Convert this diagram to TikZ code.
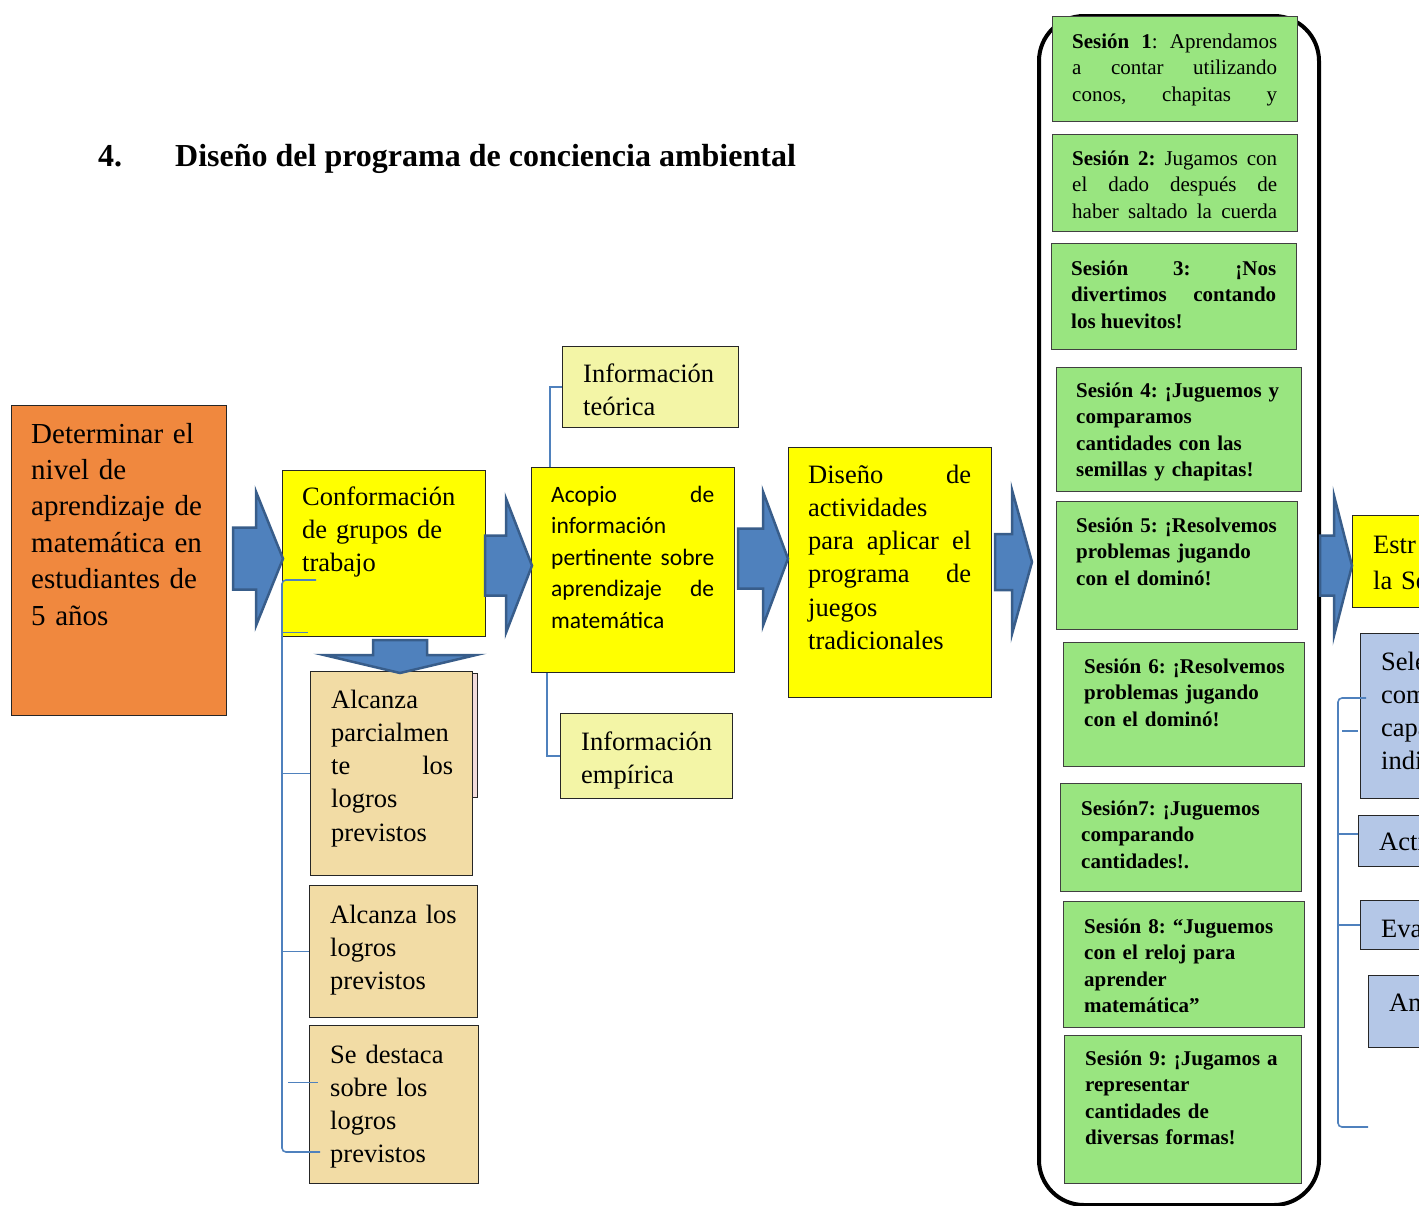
\documentclass[tikz,border=0pt]{standalone}
\usepackage{fontspec}
\setmainfont{Liberation Serif}
\newfontfamily\calibri{Carlito}
\usetikzlibrary{calc}

\definecolor{naranja}{RGB}{240,136,62}
\definecolor{amarillo}{RGB}{255,255,0}
\definecolor{amarilloclaro}{RGB}{243,245,166}
\definecolor{crema}{RGB}{242,220,165}
\definecolor{rosado}{RGB}{242,220,219}
\definecolor{verde}{RGB}{153,229,128}
\definecolor{celeste}{RGB}{180,199,231}
\definecolor{azul}{RGB}{79,129,189}
\definecolor{azulosc}{RGB}{56,93,138}

% flecha de bloque: punta, largo, cabeza, medio cuerpo, media cabeza
\newcommand{\flecha}[5]{%
  \draw[flechaazul, shift={#1}] (-#2,-#4) -- (-#3,-#4) -- (-#3,-#5) -- (0,0)
    -- (-#3,#5) -- (-#3,#4) -- (-#2,#4) -- cycle;}

\begin{document}
\frenchspacing
\begin{tikzpicture}[x=1pt, y=-1pt,
  caja/.style={draw=black!85, line width=1.3pt, inner sep=0pt, anchor=north west},
  naranjo/.style={caja, fill=naranja},
  amar/.style={caja, fill=amarillo},
  info/.style={caja, fill=amarilloclaro},
  logro/.style={caja, fill=crema},
  sesion/.style={caja, draw=black!75, fill=verde},
  azulcaja/.style={caja, fill=celeste},
  flechaazul/.style={fill=azul, draw=azulosc, line width=2.5pt, line join=miter},
  corchete/.style={draw=azul, line width=1.6pt},
  txt/.style={inner sep=0pt, anchor=base west, text width=230, align=left, font=\fontsize{26.5}{33.3}\selectfont\frenchspacing},
  txtgr/.style={txt, font=\fontsize{29}{36.4}\selectfont\frenchspacing},
  txtses/.style={txt, font=\fontsize{21}{26.5}\selectfont\frenchspacing},
  txtsesb/.style={txt, font=\bfseries\fontsize{21}{26.5}\selectfont\frenchspacing},
  txtcal/.style={txt, font=\calibri\fontsize{23.5}{31.5}\selectfont\frenchspacing},
  just/.style={text width=#1, align=justify},
  titulo/.style={inner sep=0pt, anchor=base west, font=\bfseries\fontsize{32}{38}\selectfont},
]
\useasboundingbox (0,0) rectangle (1419,1205);
\clip (0,0) rectangle (1419,1205);

% titulo
\node[titulo] (num) at (98,166) {4.};
\node[titulo] (tit) at (175,166) {Diseño del programa de conciencia ambiental};

% cajas de la izquierda
\node[naranjo, minimum width=215, minimum height=310] (det) at (11,405) {};
\node[amar, minimum width=203, minimum height=166] (conf) at (282,470) {};
\node[amar, minimum width=203, minimum height=205] (acop) at (531,467) {};
\node[info, minimum width=176, minimum height=81] (teo) at (562,346) {};
\node[info, minimum width=172, minimum height=85] (emp) at (560,713) {};
\node[amar, minimum width=203, minimum height=250] (dis) at (788,447) {};
\node[caja, fill=rosado, minimum width=147, minimum height=124] (alc0) at (330,673) {};
\node[logro, minimum width=162, minimum height=204] (alc1) at (310,671) {};
\node[logro, minimum width=168, minimum height=132] (alc2) at (309,885) {};
\node[logro, minimum width=169, minimum height=158] (alc3) at (309,1025) {};

\node[txtgr] (detT) at (31,443) {Determinar el\\nivel de\\aprendizaje de\\matemática en\\estudiantes de\\5 años};
\node[txt] (confT) at (302,505) {Conformación\\de grupos de\\trabajo};
\node[txtcal, just=163] (acopT) at (551,502) {Acopio de\linebreak información\linebreak pertinente sobre\linebreak aprendizaje de\linebreak matemática};
\node[txt] (teoT) at (583,382) {Información\\teórica};
\node[txt] (empT) at (581,750) {Información\\empírica};
\node[txt, just=163] (disT) at (808,483) {Diseño de\linebreak actividades\linebreak para aplicar el\linebreak programa de\linebreak juegos\linebreak tradicionales};
\node[txt, just=122] (alc1T) at (331,708) {Alcanza\linebreak parcialmen\linebreak te los\linebreak logros\linebreak previstos};
\node[txt] (alc2T) at (330,923) {Alcanza los\\logros\\previstos};
\node[txt] (alc3T) at (330,1063) {Se destaca\\sobre los\\logros\\previstos};

% marco de las sesiones
\node[draw=black, line width=4pt, rounded corners=45pt, inner sep=0pt,
  minimum width=280, minimum height=1189, anchor=north west] (marco) at (1037,14) {};
\node[sesion, minimum width=245, minimum height=105] (s1) at (1052,16) {};
\node[sesion, minimum width=245, minimum height=97] (s2) at (1052,134) {};
\node[sesion, minimum width=245, minimum height=106] (s3) at (1051,243) {};
\node[sesion, minimum width=245, minimum height=124] (s4) at (1056,367) {};
\node[sesion, minimum width=241, minimum height=128] (s5) at (1056,501) {};
\node[sesion, minimum width=241, minimum height=124] (s6) at (1063,642) {};
\node[sesion, minimum width=241, minimum height=108] (s7) at (1060,783) {};
\node[sesion, minimum width=241, minimum height=126] (s8) at (1063,901) {};
\node[sesion, minimum width=237, minimum height=148] (s9) at (1064,1035) {};

\node[txtses, just=205] (s1T) at (1072,48) {\textbf{Sesión 1}: Aprendamos\linebreak a contar utilizando\linebreak conos, chapitas y\linebreak\mbox{}};
\node[txtses, just=205] (s2T) at (1072,165) {\textbf{Sesión 2:} Jugamos con\linebreak el dado después de\linebreak haber saltado la cuerda\linebreak\mbox{}};
\node[txtsesb, just=205] (s3T) at (1071,275) {Sesión 3: ¡Nos\linebreak divertimos contando\linebreak los huevitos!};
\node[txtsesb] (s4T) at (1076,397) {Sesión 4: ¡Juguemos y\\comparamos\\cantidades con las\\semillas y chapitas!};
\node[txtsesb] (s5T) at (1076,532) {Sesión 5: ¡Resolvemos\\problemas jugando\\con el dominó!};
\node[txtsesb] (s6T) at (1084,673) {Sesión 6: ¡Resolvemos\\problemas jugando\\con el dominó!};
\node[txtsesb] (s7T) at (1081,815) {Sesión7: ¡Juguemos\\comparando\\cantidades!.};
\node[txtsesb] (s8T) at (1084,933) {Sesión 8: “Juguemos\\con el reloj para\\aprender\\matemática”};
\node[txtsesb] (s9T) at (1085,1065) {Sesión 9: ¡Jugamos a\\representar\\cantidades de\\diversas formas!};

% cajas de la derecha (cortadas)
\node[amar, minimum width=100, minimum height=92] (estr) at (1352,515) {};
\node[azulcaja, minimum width=90, minimum height=165] (sele) at (1360,633) {};
\node[azulcaja, minimum width=90, minimum height=51] (acti) at (1358,815) {};
\node[azulcaja, minimum width=90, minimum height=49] (eva) at (1360,900) {};
\node[azulcaja, minimum width=90, minimum height=72] (an) at (1368,975) {};
\node[txt, font=\fontsize{26.5}{36}\selectfont] (estrT) at (1373,553) {Estr\\la Se};
\node[txt] (seleT) at (1381,670) {Sele\\com\\capa\\indi};
\node[txt] (actiT) at (1379,850) {Acti};
\node[txt] (evaT) at (1381,937) {Eva};
\node[txt] (anT) at (1389,1011) {An};

% corchetes
\coordinate (izqA) at (282,580);
\coordinate (izqB) at (282,1152);
\draw[corchete, rounded corners=4] ([xshift=34]izqA) -- (izqA) -- (izqB) -- ([xshift=38]izqB);
\draw[corchete] ([yshift=5]conf.south west) -- ++(26,0);
\draw[corchete] (izqA |- alc1.west) -- (alc1.west);
\draw[corchete] (izqA |- alc2.west) -- (alc2.west);
\draw[corchete] ([shift={(-21,-22)}]alc3.west) -- ++(30,0);
\draw[corchete] ([xshift=19]acop.north west) |- (teo.west);
\draw[corchete] ([xshift=16]acop.south west) |- (emp.west);

\coordinate (derA) at (1338,698);
\coordinate (derB) at (1338,1127);
\draw[corchete, rounded corners=4] ([xshift=28]derA) -- (derA) -- (derB) -- ([xshift=30]derB);
\draw[corchete] ([shift={(-18,15)}]sele.west) -- ++(16,0);
\draw[corchete] ([yshift=7]derA |- acti.west) -- ([yshift=7]acti.west);
\draw[corchete] (derA |- eva.west) -- (eva.west);

% flechas
\flecha{($(conf.west)+(1,5)$)}{50}{27}{31}{67}
\flecha{($(acop.west)+(1,-4.5)$)}{47}{26}{30}{67}
\flecha{($(dis.west)+(0,-14)$)}{50}{25}{30}{67}
\flecha{($(marco.west)+(-5,-48.5)$)}{37}{20}{28}{72}
\flecha{($(estr.west)+(0,4)$)}{32}{18}{30}{70}
\draw[flechaazul, shift={($(alc1.north west)+(90,2)$)}] (-27,-33) -- (27,-33) -- (27,-18) -- (76,-18)
  -- (0,0) -- (-76,-18) -- (-27,-18) -- cycle;
\end{tikzpicture}
\end{document}
